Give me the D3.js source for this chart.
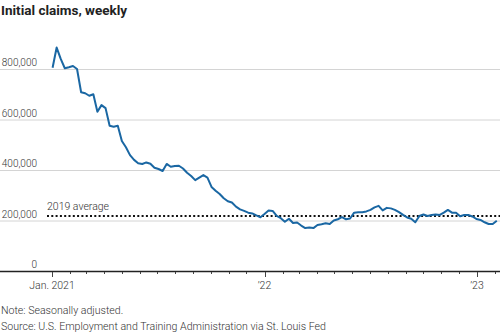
<!DOCTYPE html>
<html>
<head>
<meta charset="utf-8">
<script src="https://cdn.jsdelivr.net/npm/d3@7"></script>
<style>
  body { margin: 0; background: #fff; }
  svg { display: block; }
  .title { font-family: "Liberation Sans Narrow", "Roboto", sans-serif; font-weight: bold; font-size: 13.5px; fill: #222; }
  .tick-label { font-family: "Roboto", sans-serif; font-weight: 300; font-size: 10px; fill: #333; }
  .note { font-family: "Roboto", sans-serif; font-weight: 300; font-size: 10.6px; fill: #333; }
</style>
</head>
<body>
<svg width="500" height="333"></svg>
<script>
// weekly initial claims, thousands, week ending Jan 2 2021 onward
var firstWeek = "2021-01-02";
var claims = [
  805, 885, 840, 803, 807, 812, 800, 708, 704, 694,
  700, 631, 657, 645, 575, 571, 575, 515, 490, 459,
  440, 427, 424, 430, 425, 409, 404, 396, 424, 413,
  416, 417, 406, 389, 376, 360, 370, 380, 370, 333,
  318, 305, 288, 276, 271, 255, 244, 238, 231, 228,
  220, 213, 226, 240, 238, 218, 209, 195, 207, 190,
  192, 180, 170, 172, 170, 182, 185, 189, 186, 200,
  205, 213, 205, 208, 231, 233, 233, 236, 242, 252,
  258, 240, 250, 248, 242, 233, 222, 212, 207, 193,
  218, 224, 218, 222, 224, 222, 231, 242, 231, 231,
  217, 222, 222, 216, 206, 202, 193, 186, 186, 199
];
var yTicks = [0, 200000, 400000, 600000, 800000];
var avg2019 = 218000;
var xLabels = [["2021-01-01", "Jan. 2021"], ["2022-01-01", "\u201922"], ["2023-01-01", "\u201923"]];

var parse = d3.utcParse("%Y-%m-%d");
var start = parse(firstWeek);
var series = claims.map(function(v, i) {
  return { date: d3.utcDay.offset(start, 7 * i), value: v * 1000 };
});

var svg = d3.select("svg");

var x = d3.scaleUtc()
  .domain([parse("2021-01-01"), parse("2023-01-01")])
  .range([52, 477]);
var y = d3.scaleLinear()
  .domain([0, 800000])
  .range([271, 69]);

svg.append("text")
  .attr("class", "title")
  .attr("x", 1)
  .attr("y", 15)
  .text("Initial claims, weekly");

// gridlines
svg.append("g")
  .selectAll("line")
  .data(yTicks.filter(function(d) { return d > 0; }))
  .enter().append("line")
  .attr("x1", 0).attr("x2", 500)
  .attr("y1", function(d) { return y(d) + 0.5; })
  .attr("y2", function(d) { return y(d) + 0.5; })
  .attr("stroke", "#d4d4d4")
  .attr("stroke-width", 1);

svg.append("g")
  .selectAll("text")
  .data(yTicks)
  .enter().append("text")
  .attr("class", "tick-label")
  .attr("x", 37)
  .attr("y", function(d) { return y(d) - 3; })
  .attr("text-anchor", "end")
  .text(function(d) { return d3.format(",")(d); });

// x axis
var axisG = svg.append("g");
axisG.append("line")
  .attr("x1", 0).attr("x2", 500)
  .attr("y1", 271.5).attr("y2", 271.5)
  .attr("stroke", "#222").attr("stroke-width", 1.3);

var months = d3.utcMonth.range(parse("2021-01-01"), parse("2023-03-01"));
axisG.selectAll(".mtick")
  .data(months)
  .enter().append("line")
  .attr("x1", function(d) { return Math.round(x(d)) + 0.5; })
  .attr("x2", function(d) { return Math.round(x(d)) + 0.5; })
  .attr("y1", 272)
  .attr("y2", function(d) { return d.getUTCMonth() === 0 ? 277 : 274; })
  .attr("stroke", "#444")
  .attr("stroke-width", 1);

axisG.selectAll(".xlab")
  .data(xLabels)
  .enter().append("text")
  .attr("class", "tick-label")
  .attr("x", function(d) { return x(parse(d[0])); })
  .attr("y", 289)
  .attr("text-anchor", "middle")
  .style("font-size", "10.5px")
  .text(function(d) { return d[1]; });

// 2019 average
svg.append("line")
  .attr("x1", 47).attr("x2", 500)
  .attr("y1", y(avg2019)).attr("y2", y(avg2019))
  .attr("stroke", "#111")
  .attr("stroke-width", 2)
  .attr("stroke-dasharray", "2,2.3");

svg.append("text")
  .attr("class", "tick-label")
  .attr("x", 47)
  .attr("y", y(avg2019) - 6)
  .style("font-size", "10.5px")
  .text("2019 average");

var line = d3.line()
  .x(function(d) { return x(d.date); })
  .y(function(d) { return y(d.value); });

svg.append("path")
  .datum(series)
  .attr("fill", "none")
  .attr("stroke", "#1a67a3")
  .attr("stroke-width", 2)
  .attr("stroke-linejoin", "round")
  .attr("d", line);

svg.append("text")
  .attr("class", "note")
  .attr("x", 1)
  .attr("y", 314)
  .text("Note: Seasonally adjusted.");
svg.append("text")
  .attr("class", "note")
  .attr("x", 1)
  .attr("y", 330)
  .text("Source: U.S. Employment and Training Administration via St. Louis Fed");
</script>
</body>
</html>
